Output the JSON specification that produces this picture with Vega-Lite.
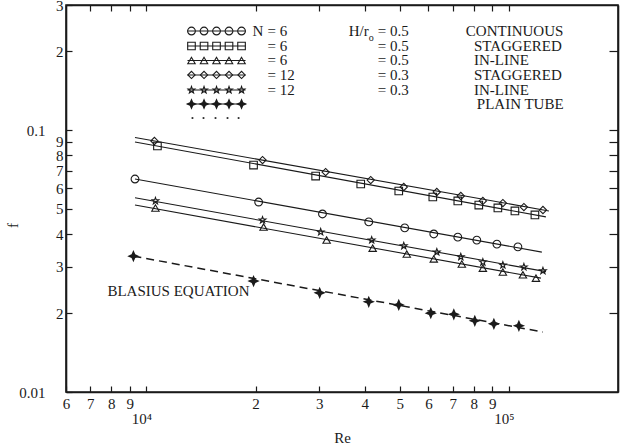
{
  "$schema": "https://vega.github.io/schema/vega-lite/v6.json",
  "width": 552,
  "height": 387,
  "autosize": {"type": "none"},
  "padding": {"left": 66, "top": 5, "right": 6, "bottom": 54},
  "background": "white",
  "config": {
    "view": {"stroke": "#1a1a1a", "strokeWidth": 1.6},
    "font": "Liberation Serif",
    "text": {"font": "Liberation Serif", "fontSize": 15, "color": "#1a1a1a"},
    "axis": {
      "grid": false,
      "domainColor": "#1a1a1a",
      "domainWidth": 1.6,
      "tickColor": "#1a1a1a",
      "tickWidth": 1.2,
      "tickSize": -6,
      "labelFont": "Liberation Serif",
      "labelFontSize": 15,
      "labelColor": "#1a1a1a",
      "labelFlush": false,
      "labelOverlap": false,
      "titleFont": "Liberation Serif",
      "titleFontSize": 15,
      "titleFontWeight": "normal",
      "titleColor": "#1a1a1a"
    }
  },
  "datasets": {
    "fits": [
      {"series": "continuous", "Re": 9300, "f": 0.065},
      {"series": "continuous", "Re": 123300, "f": 0.0342},
      {"series": "stag6", "Re": 9300, "f": 0.09},
      {"series": "stag6", "Re": 126500, "f": 0.0466},
      {"series": "inline6", "Re": 9300, "f": 0.0517},
      {"series": "inline6", "Re": 122550, "f": 0.0272},
      {"series": "stag12", "Re": 9300, "f": 0.0936},
      {"series": "stag12", "Re": 128960, "f": 0.0491},
      {"series": "inline12", "Re": 9300, "f": 0.0551},
      {"series": "inline12", "Re": 126540, "f": 0.0288}
    ],
    "blasius": [
      {"Re": 9207, "f": 0.033},
      {"Re": 124150, "f": 0.01694}
    ],
    "points": [
      {"series": "continuous", "Re": 9300, "f": 0.065},
      {"series": "continuous", "Re": 20400, "f": 0.0531},
      {"series": "continuous", "Re": 30600, "f": 0.0478},
      {"series": "continuous", "Re": 41060, "f": 0.0446},
      {"series": "continuous", "Re": 51600, "f": 0.0423},
      {"series": "continuous", "Re": 62060, "f": 0.0401},
      {"series": "continuous", "Re": 72290, "f": 0.039},
      {"series": "continuous", "Re": 81560, "f": 0.038},
      {"series": "continuous", "Re": 92660, "f": 0.0367},
      {"series": "continuous", "Re": 105900, "f": 0.0358},
      {"series": "stag6", "Re": 10725, "f": 0.0869},
      {"series": "stag6", "Re": 19750, "f": 0.0735},
      {"series": "stag6", "Re": 29300, "f": 0.0667},
      {"series": "stag6", "Re": 39020, "f": 0.0622},
      {"series": "stag6", "Re": 49680, "f": 0.0585},
      {"series": "stag6", "Re": 61680, "f": 0.0555},
      {"series": "stag6", "Re": 72290, "f": 0.0536},
      {"series": "stag6", "Re": 82600, "f": 0.0517},
      {"series": "stag6", "Re": 93240, "f": 0.0504},
      {"series": "stag6", "Re": 103900, "f": 0.0491},
      {"series": "stag6", "Re": 117980, "f": 0.0474},
      {"series": "inline6", "Re": 10590, "f": 0.0504},
      {"series": "inline6", "Re": 21050, "f": 0.0426},
      {"series": "inline6", "Re": 31420, "f": 0.038},
      {"series": "inline6", "Re": 42090, "f": 0.0354},
      {"series": "inline6", "Re": 52280, "f": 0.0336},
      {"series": "inline6", "Re": 62060, "f": 0.0322},
      {"series": "inline6", "Re": 74160, "f": 0.0308},
      {"series": "inline6", "Re": 84760, "f": 0.0297},
      {"series": "inline6", "Re": 96250, "f": 0.0287},
      {"series": "inline6", "Re": 109320, "f": 0.028},
      {"series": "inline6", "Re": 118750, "f": 0.0272},
      {"series": "stag12", "Re": 10522, "f": 0.0908},
      {"series": "stag12", "Re": 20910, "f": 0.0768},
      {"series": "stag12", "Re": 31220, "f": 0.0691},
      {"series": "stag12", "Re": 41570, "f": 0.0644},
      {"series": "stag12", "Re": 51290, "f": 0.0606},
      {"series": "stag12", "Re": 63260, "f": 0.058},
      {"series": "stag12", "Re": 73680, "f": 0.056},
      {"series": "stag12", "Re": 84760, "f": 0.0536},
      {"series": "stag12", "Re": 96250, "f": 0.0526},
      {"series": "stag12", "Re": 110000, "f": 0.0508},
      {"series": "stag12", "Re": 124150, "f": 0.0495},
      {"series": "inline12", "Re": 10590, "f": 0.0536},
      {"series": "inline12", "Re": 20910, "f": 0.0453},
      {"series": "inline12", "Re": 30250, "f": 0.0408},
      {"series": "inline12", "Re": 41830, "f": 0.038},
      {"series": "inline12", "Re": 51290, "f": 0.0361},
      {"series": "inline12", "Re": 63260, "f": 0.0342},
      {"series": "inline12", "Re": 73680, "f": 0.0328},
      {"series": "inline12", "Re": 84760, "f": 0.0313},
      {"series": "inline12", "Re": 96250, "f": 0.0305},
      {"series": "inline12", "Re": 110000, "f": 0.03},
      {"series": "inline12", "Re": 124150, "f": 0.029},
      {"series": "plain", "Re": 9207, "f": 0.033},
      {"series": "plain", "Re": 19750, "f": 0.0265},
      {"series": "plain", "Re": 30060, "f": 0.0239},
      {"series": "plain", "Re": 41060, "f": 0.0221},
      {"series": "plain", "Re": 49680, "f": 0.0215},
      {"series": "plain", "Re": 60890, "f": 0.02},
      {"series": "plain", "Re": 70480, "f": 0.0198},
      {"series": "plain", "Re": 80540, "f": 0.0187},
      {"series": "plain", "Re": 90910, "f": 0.0182},
      {"series": "plain", "Re": 106560, "f": 0.0179}
    ],
    "keyLines": [
      {"series": "continuous", "Re": 12980, "f": 0.2387},
      {"series": "continuous", "Re": 18770, "f": 0.2387},
      {"series": "stag6", "Re": 12980, "f": 0.2092},
      {"series": "stag6", "Re": 18770, "f": 0.2092},
      {"series": "inline6", "Re": 12980, "f": 0.1842},
      {"series": "inline6", "Re": 18770, "f": 0.1842},
      {"series": "stag12", "Re": 12980, "f": 0.1622},
      {"series": "stag12", "Re": 18770, "f": 0.1622},
      {"series": "inline12", "Re": 12980, "f": 0.1421},
      {"series": "inline12", "Re": 18770, "f": 0.1421},
      {"series": "plain", "Re": 12980, "f": 0.1257},
      {"series": "plain", "Re": 18770, "f": 0.1257}
    ],
    "keyMarks": [
      {"series": "continuous", "Re": 13315, "f": 0.2387},
      {"series": "continuous", "Re": 14420, "f": 0.2387},
      {"series": "continuous", "Re": 15610, "f": 0.2387},
      {"series": "continuous", "Re": 16900, "f": 0.2387},
      {"series": "continuous", "Re": 18300, "f": 0.2387},
      {"series": "stag6", "Re": 13315, "f": 0.2092},
      {"series": "stag6", "Re": 14420, "f": 0.2092},
      {"series": "stag6", "Re": 15610, "f": 0.2092},
      {"series": "stag6", "Re": 16900, "f": 0.2092},
      {"series": "stag6", "Re": 18300, "f": 0.2092},
      {"series": "inline6", "Re": 13315, "f": 0.1842},
      {"series": "inline6", "Re": 14420, "f": 0.1842},
      {"series": "inline6", "Re": 15610, "f": 0.1842},
      {"series": "inline6", "Re": 16900, "f": 0.1842},
      {"series": "inline6", "Re": 18300, "f": 0.1842},
      {"series": "stag12", "Re": 13315, "f": 0.1622},
      {"series": "stag12", "Re": 14420, "f": 0.1622},
      {"series": "stag12", "Re": 15610, "f": 0.1622},
      {"series": "stag12", "Re": 16900, "f": 0.1622},
      {"series": "stag12", "Re": 18300, "f": 0.1622},
      {"series": "inline12", "Re": 13315, "f": 0.1421},
      {"series": "inline12", "Re": 14420, "f": 0.1421},
      {"series": "inline12", "Re": 15610, "f": 0.1421},
      {"series": "inline12", "Re": 16900, "f": 0.1421},
      {"series": "inline12", "Re": 18300, "f": 0.1421},
      {"series": "plain", "Re": 13315, "f": 0.1257},
      {"series": "plain", "Re": 14420, "f": 0.1257},
      {"series": "plain", "Re": 15610, "f": 0.1257},
      {"series": "plain", "Re": 16900, "f": 0.1257},
      {"series": "plain", "Re": 18300, "f": 0.1257}
    ],
    "keyDots": [
      {"Re": 13398, "f": 0.1111},
      {"Re": 14372, "f": 0.1111},
      {"Re": 15510, "f": 0.1111},
      {"Re": 16740, "f": 0.1111},
      {"Re": 17960, "f": 0.1111}
    ],
    "notes": [
      {"text": "N", "Re": 19630, "f": 0.2387},
      {"text": "= 6", "Re": 21590, "f": 0.2387},
      {"text": "= 6", "Re": 21590, "f": 0.2092},
      {"text": "= 6", "Re": 21590, "f": 0.1842},
      {"text": "= 12", "Re": 21590, "f": 0.1622},
      {"text": "= 12", "Re": 21590, "f": 0.1421},
      {"text": "H/r", "Re": 36140, "f": 0.2387},
      {"text": "= 0.5", "Re": 43470, "f": 0.2387},
      {"text": "= 0.5", "Re": 43470, "f": 0.2092},
      {"text": "= 0.5", "Re": 43470, "f": 0.1842},
      {"text": "= 0.3", "Re": 43470, "f": 0.1622},
      {"text": "= 0.3", "Re": 43470, "f": 0.1421},
      {"text": "CONTINUOUS", "Re": 76060, "f": 0.2387},
      {"text": "STAGGERED", "Re": 80070, "f": 0.2092},
      {"text": "IN-LINE", "Re": 80070, "f": 0.1842},
      {"text": "STAGGERED", "Re": 80070, "f": 0.1622},
      {"text": "IN-LINE", "Re": 80070, "f": 0.1421},
      {"text": "PLAIN TUBE", "Re": 81560, "f": 0.1257},
      {"text": "BLASIUS EQUATION", "Re": 7804, "f": 0.0243}
    ],
    "subscripts": [
      {"text": "o", "Re": 41060, "f": 0.2244}
    ]
  },
  "layer": [
    {
      "data": {"name": "fits"},
      "mark": {"type": "line", "color": "#1a1a1a", "strokeWidth": 1.1},
      "encoding": {
        "detail": {"field": "series", "type": "nominal"},
        "x": {
          "field": "Re", "type": "quantitative",
          "scale": {"type": "log", "domain": [6000, 200000], "nice": false},
          "axis": {
            "orient": "bottom",
            "title": "Re",
            "values": [6000, 7000, 8000, 9000, 10000, 20000, 30000, 40000, 50000, 60000, 70000, 80000, 90000, 100000],
            "labelExpr": "datum.value == 10000 ? ['', '10⁴'] : datum.value == 100000 ? ['', '10⁵'] : datum.value < 10000 ? '' + round(datum.value / 1000) : '' + round(datum.value / 10000)",
            "labelPadding": 10,
            "labelOffset": {"condition": {"test": "datum.value == 10000 || datum.value == 100000", "value": -5}, "value": 0},
            "labelLineHeight": 15,
            "titleY": 38,
            "titleBaseline": "top"
          }
        },
        "y": {
          "field": "f", "type": "quantitative",
          "scale": {"type": "log", "domain": [0.01, 0.3], "nice": false},
          "axis": {
            "orient": "left",
            "title": "f",
            "values": [0.01, 0.02, 0.03, 0.04, 0.05, 0.06, 0.07, 0.08, 0.09, 0.1, 0.2, 0.3],
            "labelExpr": "datum.value == 0.1 ? '0.1' : datum.value == 0.01 ? '0.01' : datum.value < 0.1 ? '' + round(datum.value * 100) : '' + round(datum.value * 10)",
            "labelPadding": {"condition": {"test": "datum.value == 0.1 || datum.value == 0.01", "value": 27}, "value": 9},
            "labelAlign": "right",
            "labelBaseline": "middle",
            "titleX": -54,
            "titleY": 220,
            "titleAlign": "center",
            "titleBaseline": "middle"
          }
        }
      }
    },
    {
      "data": {"name": "blasius"},
      "mark": {"type": "line", "color": "#1a1a1a", "strokeWidth": 1.5, "strokeDash": [8, 5]},
      "encoding": {
        "x": {"field": "Re", "type": "quantitative", "axis": null},
        "y": {"field": "f", "type": "quantitative", "axis": null}
      }
    },
    {
      "data": {"name": "points"},
      "transform": [{"filter": "datum.series != 'plain'"}],
      "mark": {"type": "point", "filled": false, "stroke": "#1a1a1a", "strokeWidth": 1.1, "opacity": 1},
      "encoding": {
        "x": {"field": "Re", "type": "quantitative", "axis": null},
        "y": {"field": "f", "type": "quantitative", "axis": null},
        "shape": {
          "field": "series", "type": "nominal", "legend": null,
          "scale": {
            "domain": ["continuous", "stag6", "inline6", "stag12", "inline12"],
            "range": ["circle", "square", "triangle-up", "diamond", "M0,-1L0.235,-0.324L0.951,-0.309L0.38,0.124L0.588,0.809L0,0.4L-0.588,0.809L-0.38,0.124L-0.951,-0.309L-0.235,-0.324Z"]
          }
        },
        "size": {
          "field": "series", "type": "nominal", "legend": null,
          "scale": {
            "domain": ["continuous", "stag6", "inline6", "stag12", "inline12"],
            "range": [60, 50, 50, 60, 100]
          }
        }
      }
    },
    {
      "data": {"name": "points"},
      "transform": [{"filter": "datum.series == 'plain'"}],
      "mark": {"type": "point", "filled": true, "color": "#1a1a1a", "opacity": 1, "size": 150, "shape": "M0,-1L0.3,-0.3L1,0L0.3,0.3L0,1L-0.3,0.3L-1,0L-0.3,-0.3Z"},
      "encoding": {
        "x": {"field": "Re", "type": "quantitative", "axis": null},
        "y": {"field": "f", "type": "quantitative", "axis": null}
      }
    },
    {
      "data": {"name": "keyLines"},
      "mark": {"type": "line", "color": "#1a1a1a", "strokeWidth": 1.1},
      "encoding": {
        "detail": {"field": "series", "type": "nominal"},
        "x": {"field": "Re", "type": "quantitative", "axis": null},
        "y": {"field": "f", "type": "quantitative", "axis": null}
      }
    },
    {
      "data": {"name": "keyMarks"},
      "transform": [{"filter": "datum.series != 'plain'"}],
      "mark": {"type": "point", "filled": false, "stroke": "#1a1a1a", "strokeWidth": 1.1, "opacity": 1},
      "encoding": {
        "x": {"field": "Re", "type": "quantitative", "axis": null},
        "y": {"field": "f", "type": "quantitative", "axis": null},
        "shape": {"field": "series", "type": "nominal", "legend": null},
        "size": {"field": "series", "type": "nominal", "legend": null}
      }
    },
    {
      "data": {"name": "keyMarks"},
      "transform": [{"filter": "datum.series == 'plain'"}],
      "mark": {"type": "point", "filled": true, "color": "#1a1a1a", "opacity": 1, "size": 130, "shape": "M0,-1L0.3,-0.3L1,0L0.3,0.3L0,1L-0.3,0.3L-1,0L-0.3,-0.3Z"},
      "encoding": {
        "x": {"field": "Re", "type": "quantitative", "axis": null},
        "y": {"field": "f", "type": "quantitative", "axis": null}
      }
    },
    {
      "data": {"name": "keyDots"},
      "mark": {"type": "point", "filled": true, "color": "#1a1a1a", "opacity": 1, "size": 3, "shape": "square"},
      "encoding": {
        "x": {"field": "Re", "type": "quantitative", "axis": null},
        "y": {"field": "f", "type": "quantitative", "axis": null}
      }
    },
    {
      "data": {"name": "notes"},
      "mark": {"type": "text", "align": "left", "baseline": "middle", "fontSize": 15},
      "encoding": {
        "text": {"field": "text", "type": "nominal"},
        "x": {"field": "Re", "type": "quantitative", "axis": null},
        "y": {"field": "f", "type": "quantitative", "axis": null}
      }
    },
    {
      "data": {"name": "subscripts"},
      "mark": {"type": "text", "align": "left", "baseline": "middle", "fontSize": 10},
      "encoding": {
        "text": {"field": "text", "type": "nominal"},
        "x": {"field": "Re", "type": "quantitative", "axis": null},
        "y": {"field": "f", "type": "quantitative", "axis": null}
      }
    },
    {
      "data": {"name": "fits"},
      "mark": {"type": "point", "opacity": 0},
      "encoding": {
        "x": {
          "field": "Re", "type": "quantitative",
          "axis": {
            "orient": "top",
            "title": null,
            "labels": false,
            "tickSize": -6,
            "values": [7000, 8000, 9000, 10000, 20000, 30000, 40000, 50000, 60000, 70000, 80000, 90000, 100000]
          }
        },
        "y": {
          "field": "f", "type": "quantitative",
          "axis": {
            "orient": "right",
            "title": null,
            "labels": false,
            "tickSize": -9,
            "values": [0.02, 0.03, 0.04, 0.05, 0.06, 0.07, 0.08, 0.09, 0.1, 0.2]
          }
        }
      }
    }
  ],
  "resolve": {"axis": {"x": "independent", "y": "independent"}}
}
